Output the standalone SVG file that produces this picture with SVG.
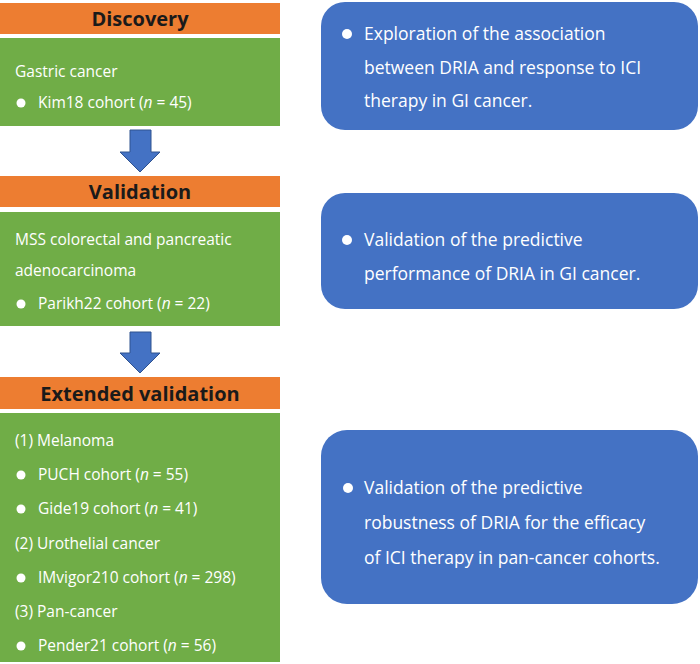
<svg xmlns="http://www.w3.org/2000/svg" width="700" height="664" viewBox="0 0 700 664">
<style>
.hd{fill:#ED7D31}.gr{fill:#70AD47}.bl{fill:#4472C4}
.ht{font-family:"Open Sans",sans-serif;font-weight:bold;font-size:20px;fill:#1a1a1a;text-anchor:middle}
.lt{font-family:"Open Sans",sans-serif;font-size:15.5px;fill:#fff}
.rt{font-family:"Open Sans",sans-serif;font-size:17.5px;fill:#fff}
.ar{fill:#4472C4;stroke:#2F528F;stroke-width:1}
</style>
<rect width="700" height="664" fill="#fff"/>
<g id="discovery">
<rect class="hd" x="0" y="3" width="280" height="31"/>
<text class="ht" x="140" y="26">Discovery</text>
<rect class="gr" x="0" y="38" width="280" height="88"/>
<text class="lt" x="15" y="77">Gastric cancer</text>
<circle cx="21" cy="103" r="4.5" fill="#fff"/>
<text class="lt" x="38" y="108">Kim18 cohort (<tspan font-style="italic">n</tspan> = 45)</text>
</g>
<g id="validation">
<rect class="hd" x="0" y="176" width="280" height="31"/>
<text class="ht" x="140" y="199">Validation</text>
<rect class="gr" x="0" y="212" width="280" height="114"/>
<text class="lt" x="15" y="245">MSS colorectal and pancreatic</text>
<text class="lt" x="15" y="276">adenocarcinoma</text>
<circle cx="21" cy="304" r="4.5" fill="#fff"/>
<text class="lt" x="38" y="309">Parikh22 cohort (<tspan font-style="italic">n</tspan> = 22)</text>
</g>
<g id="extended">
<rect class="hd" x="0" y="377" width="280" height="32"/>
<text class="ht" x="140" y="401">Extended validation</text>
<rect class="gr" x="0" y="413" width="280" height="249"/>
<text class="lt" x="15" y="446">(1) Melanoma</text>
<circle cx="21" cy="475" r="4.5" fill="#fff"/>
<text class="lt" x="38" y="480">PUCH cohort (<tspan font-style="italic">n</tspan> = 55)</text>
<circle cx="21" cy="509" r="4.5" fill="#fff"/>
<text class="lt" x="38" y="514">Gide19 cohort (<tspan font-style="italic">n</tspan> = 41)</text>
<text class="lt" x="15" y="549">(2) Urothelial cancer</text>
<circle cx="21" cy="578" r="4.5" fill="#fff"/>
<text class="lt" x="38" y="583">IMvigor210 cohort (<tspan font-style="italic">n</tspan> = 298)</text>
<text class="lt" x="15" y="617">(3) Pan-cancer</text>
<circle cx="21" cy="646" r="4.5" fill="#fff"/>
<text class="lt" x="38" y="651">Pender21 cohort (<tspan font-style="italic">n</tspan> = 56)</text>
</g>
<g id="desc1">
<rect class="bl" x="321" y="2" width="377" height="128" rx="24"/>
<circle cx="347" cy="34" r="5" fill="#fff"/>
<text class="rt" x="364" y="40">Exploration of the association</text>
<text class="rt" x="364" y="74">between DRIA and response to ICI</text>
<text class="rt" x="364" y="107">therapy in GI cancer.</text>
</g>
<g id="desc2">
<rect class="bl" x="321" y="193" width="377" height="116" rx="24"/>
<circle cx="347" cy="240" r="5" fill="#fff"/>
<text class="rt" x="364" y="246">Validation of the predictive</text>
<text class="rt" x="364" y="280">performance of DRIA in GI cancer.</text>
</g>
<g id="desc3">
<rect class="bl" x="321" y="430" width="377" height="174" rx="26"/>
<circle cx="348" cy="488" r="5" fill="#fff"/>
<text class="rt" x="364" y="494">Validation of the predictive</text>
<text class="rt" x="364" y="529">robustness of DRIA for the efficacy</text>
<text class="rt" x="364" y="564">of ICI therapy in pan-cancer cohorts.</text>
</g>
<g id="connectors">
<path class="ar" d="M130,130 H151 V152 H160 L140,172 L120,152 H130 Z"/>
<path class="ar" d="M130,332 H151 V353 H160 L140,373 L120,353 H130 Z"/>
</g>
</svg>
